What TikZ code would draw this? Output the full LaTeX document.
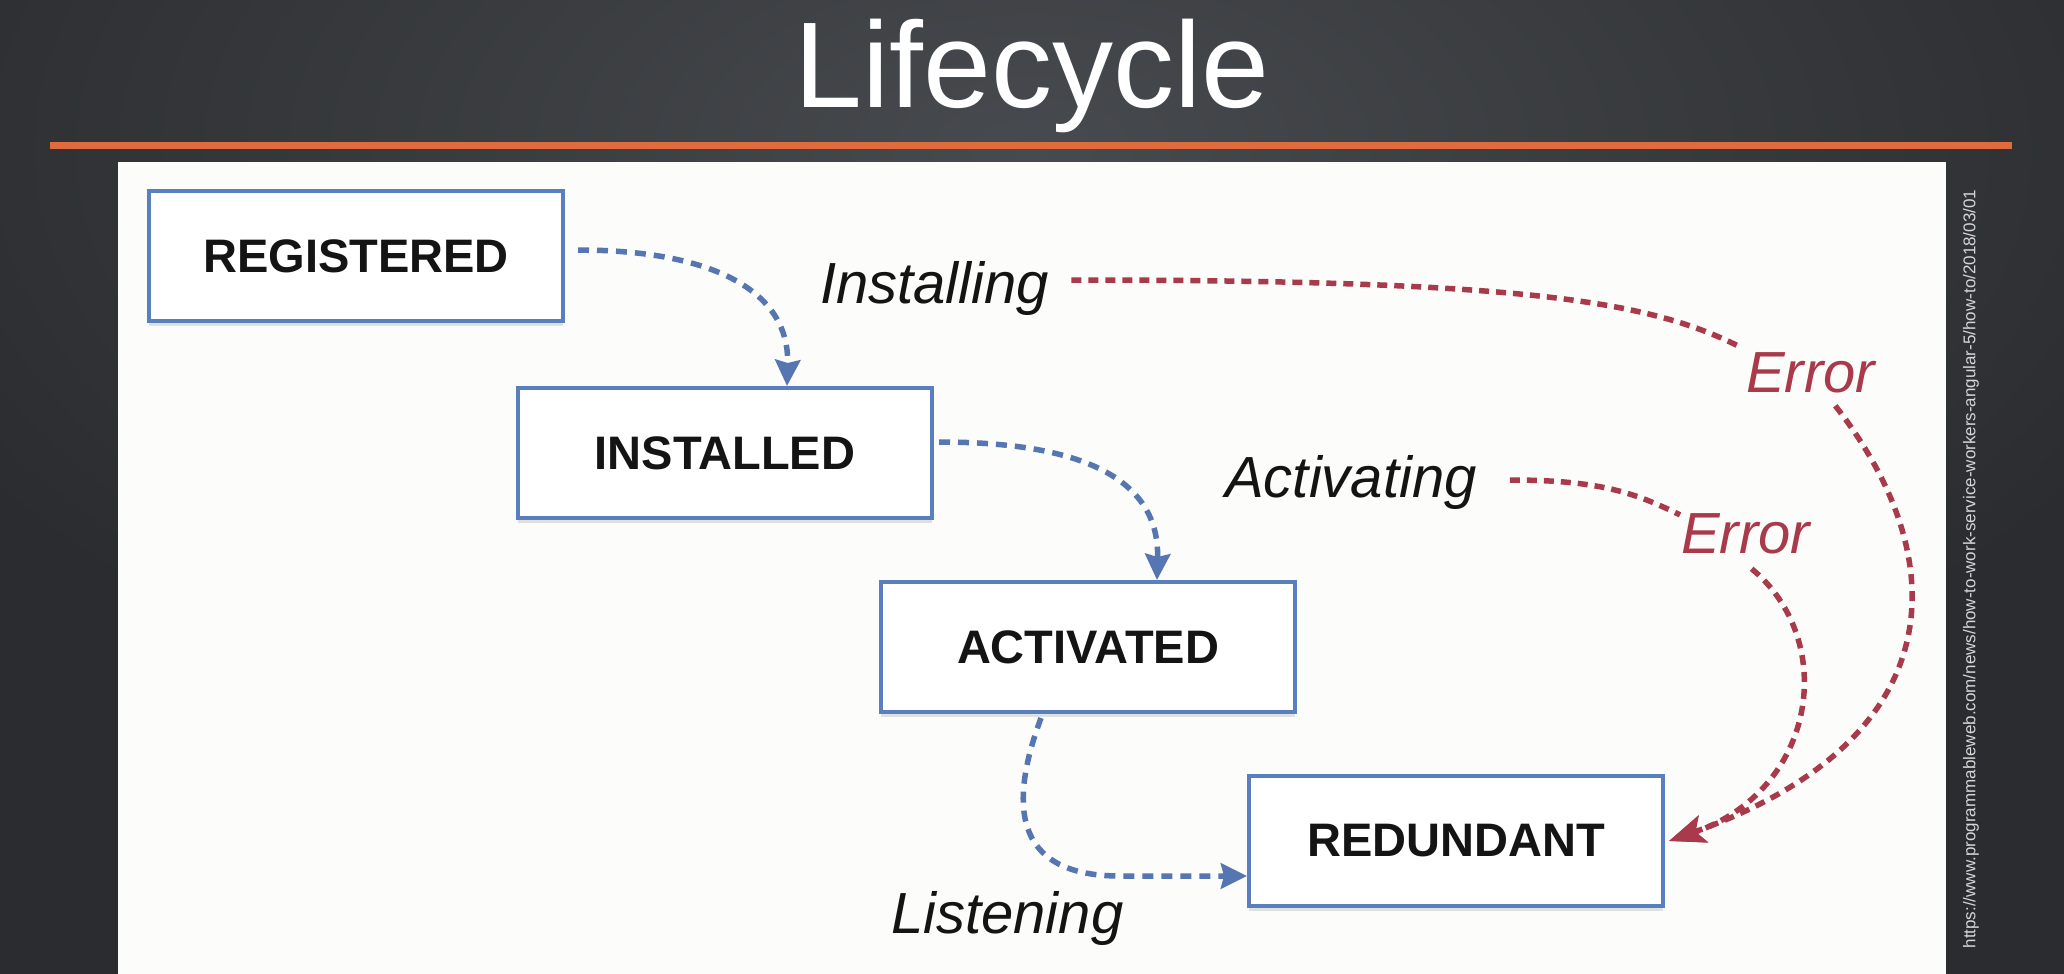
\documentclass[tikz,border=0pt]{standalone}
\usepackage{fontspec}
\setmainfont{Liberation Sans}
\usetikzlibrary{arrows.meta,shadows}
\definecolor{bgdark}{HTML}{2A2C2F}
\definecolor{bglight}{HTML}{474A4E}
\definecolor{orangeline}{HTML}{E06B3F}
\definecolor{panelwhite}{HTML}{FCFCFB}
\definecolor{boxblue}{HTML}{5A7FBE}
\definecolor{arrowblue}{HTML}{5676B2}
\definecolor{errred}{HTML}{A93A4C}
\definecolor{urlgray}{HTML}{D6D6D6}
\begin{document}
\begin{tikzpicture}[x=1pt,y=-1pt,
  state/.style={draw=boxblue, line width=4pt, fill=white, minimum width=414pt,
    minimum height=130pt, inner sep=0pt, text=black!92,
    font=\fontsize{47}{50}\selectfont\bfseries,
    drop shadow={opacity=0.22, shadow xshift=0pt, shadow yshift=-5pt}},
  lbl/.style={font=\fontsize{58}{60}\selectfont\itshape, inner sep=0pt,
    anchor=base west, text=black!92},
  errlbl/.style={lbl, text=errred},
  bluearrow/.style={draw=arrowblue, line width=5.5pt, dash pattern=on 11pt off 8pt,
    -{Stealth[length=26pt,width=25pt,inset=3pt]}},
  reddash/.style={draw=errred, line width=5.5pt, dash pattern=on 10pt off 7pt},
  redarrow/.style={reddash, -{Stealth[length=36pt,width=28pt,inset=8pt]}}
]
\useasboundingbox (0,0) rectangle (2064,974);
\fill[bgdark] (0,0) rectangle (2064,974);
\begin{scope}
  \clip (0,0) rectangle (2064,974);
  \shade[inner color=bglight, outer color=bgdark] (-200,-500) rectangle (2264,800);
\end{scope}
\fill[panelwhite] (118,162) rectangle (1946,974);
\fill[orangeline] (50,142) rectangle (2012,149);

\node[anchor=base, text=white, inner sep=0pt, font=\fontsize{122}{130}\selectfont] (title) at (1032,107) {Lifecycle};

\node[state] (registered) at (356,256) {REGISTERED};
\node[state] (installed) at (725,453) {INSTALLED};
\node[state] (activated) at (1088,647) {ACTIVATED};
\node[state] (redundant) at (1456,841) {REDUNDANT};

\node[lbl] (installing) at (820,303) {Installing};
\node[lbl] (activating) at (1225,497) {Activating};
\node[lbl] (listening) at (891,933) {Listening};
\node[errlbl] (err1) at (1746,392) {Error};
\node[errlbl] (err2) at (1681,553) {Error};

\node[rotate=90, text=urlgray, inner sep=0pt, font=\fontsize{17}{18}\selectfont] (url) at (1971,569)
  {https://www.programmableweb.com/news/how-to-work-service-workers-angular-5/how-to/2018/03/01};

% blue transitions
\draw[bluearrow] ([shift={(13,-6)}]registered.east) .. controls +(125,0) and +(3,-100) .. ([xshift=62pt]installed.north);
\draw[bluearrow] ([shift={(5,-11)}]installed.east) .. controls +(125,0) and +(3,-110) .. ([xshift=69pt]activated.north);
\draw[bluearrow] ([shift={(-47,4)}]activated.south) .. controls +(-31,83) and +(-110,0) .. ++(79,158) -- ([shift={(0,35)}]redundant.west);

% red error transitions
\draw[reddash] ([shift={(22,-8)}]installing.east) .. controls +(450,0) and +(-90,-45) .. ([shift={(-8,-6)}]err1.north west);
\draw[redarrow] ([shift={(-40,13)}]err1.south east) .. controls +(121,155) and +(283,-101) .. ([xshift=4pt]redundant.east);
\draw[reddash] ([shift={(33,-2)}]activating.east) .. controls +(90,0) and +(-45,-22) .. ([shift={(-1,2)}]err2.north west);
\draw[redarrow] ([shift={(6,15)}]err2.south) .. controls +(87,72) and +(148,-51) .. ([xshift=4pt]redundant.east);
\end{tikzpicture}
\end{document}
